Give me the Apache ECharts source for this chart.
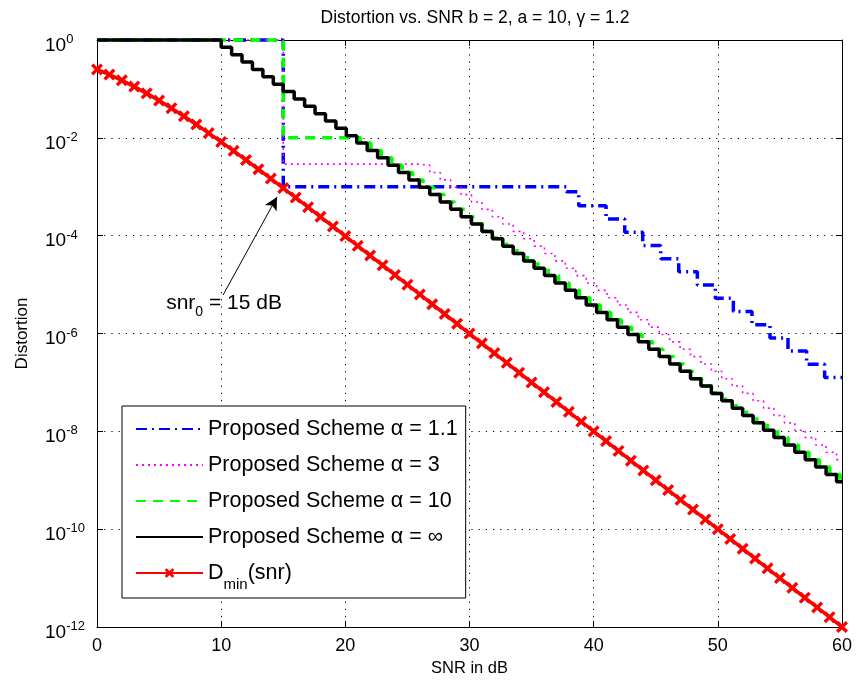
<!DOCTYPE html>
<html>
<head>
<meta charset="utf-8">
<script src="https://cdn.jsdelivr.net/npm/echarts@6/dist/echarts.min.js"></script>
<style>
  html, body { margin: 0; padding: 0; background: #fff; }
  #chart { width: 857px; height: 684px; }
</style>
</head>
<body>
<div id="chart"></div>
<script>
// SNR grid (dB) for the lower bound curve
const snrDb = [0, 1, 2, 3, 4, 5, 6, 7, 8, 9, 10, 11, 12, 13, 14, 15, 16, 17, 18, 19, 20,
  21, 22, 23, 24, 25, 26, 27, 28, 29, 30, 31, 32, 33, 34, 35, 36, 37, 38, 39, 40,
  41, 42, 43, 44, 45, 46, 47, 48, 49, 50, 51, 52, 53, 54, 55, 56, 57, 58, 59, 60];

// D_min(snr)
const dMin = [0.25, 0.196, 0.1497, 0.1115, 0.0811, 0.0577, 0.0403, 0.02767, 0.01872, 0.0125,
  0.008264, 0.005415, 0.003523, 0.002278, 0.001466, 9.40e-4, 6.00e-4, 3.83e-4, 2.434e-4, 1.546e-4,
  9.80e-5, 6.21e-5, 3.93e-5, 2.487e-5, 1.572e-5, 9.94e-6, 6.28e-6, 3.965e-6, 2.504e-6, 1.581e-6,
  9.98e-7, 6.30e-7, 3.976e-7, 2.509e-7, 1.584e-7, 9.99e-8, 6.31e-8, 3.98e-8, 2.51e-8, 1.585e-8,
  1.0e-8, 6.31e-9, 3.98e-9, 2.51e-9, 1.585e-9, 1.0e-9, 6.31e-10, 3.98e-10, 2.51e-10, 1.585e-10,
  1.0e-10, 6.31e-11, 3.98e-11, 2.51e-11, 1.585e-11, 1.0e-11, 6.31e-12, 3.98e-12, 2.51e-12, 1.585e-12,
  1.0e-12];

// Proposed scheme, alpha = infinity: SNR where each level starts, and the level
const alphaInfEdgesDb = [0, 10, 10.84, 11.68, 12.52, 13.36, 14.2, 15, 15.88, 16.72, 17.56, 18.4,
  19.24, 20.08, 20.92, 21.76, 22.6, 23.44, 24.28, 25.12, 25.96, 26.8, 27.64, 28.48, 29.32, 30.16,
  31.0, 31.84, 32.68, 33.52, 34.36, 35.2, 36.04, 36.88, 37.72, 38.56, 39.4, 40.24, 41.08, 41.92,
  42.76, 43.6, 44.44, 45.28, 46.12, 46.96, 47.8, 48.64, 49.48, 50.32, 51.16, 52.0, 52.84, 53.68,
  54.52, 55.36, 56.2, 57.04, 57.88, 58.72, 59.56];
const alphaInfLevels = [1, 0.7071, 0.5, 0.3536, 0.25, 0.1768, 0.125, 0.08839, 0.0625, 0.04419,
  0.03125, 0.0221, 0.015625, 0.01105, 0.0078125, 0.005524, 0.003906, 0.002762, 0.001953, 0.001381,
  9.766e-4, 6.905e-4, 4.883e-4, 3.453e-4, 2.441e-4, 1.726e-4, 1.221e-4, 8.632e-5, 6.104e-5, 4.316e-5,
  3.052e-5, 2.158e-5, 1.526e-5, 1.079e-5, 7.629e-6, 5.395e-6, 3.815e-6, 2.697e-6, 1.907e-6, 1.349e-6,
  9.537e-7, 6.744e-7, 4.768e-7, 3.372e-7, 2.384e-7, 1.686e-7, 1.192e-7, 8.429e-8, 5.96e-8, 4.215e-8,
  2.98e-8, 2.107e-8, 1.49e-8, 1.054e-8, 7.451e-9, 5.269e-9, 3.725e-9, 2.634e-9, 1.863e-9, 1.317e-9,
  9.313e-10];

// Proposed scheme, alpha = 10
const alpha10EdgesDb = [0, 15, 21.22, 22.06, 22.9, 23.74, 24.58, 25.42, 26.26, 27.1, 27.94, 28.78,
  29.62, 30.46, 31.3, 32.14, 32.98, 33.82, 34.66, 35.5, 36.34, 37.18, 38.02, 38.86, 39.7, 40.54,
  41.38, 42.22, 43.06, 43.9, 44.74, 45.58, 46.42, 47.26, 48.1, 48.94, 49.78, 50.62, 51.46, 52.3,
  53.14, 53.98, 54.82, 55.66, 56.5, 57.34, 58.18, 59.02, 59.86];
const alpha10Levels = [1, 0.01, 0.0078125, 0.005524, 0.003906, 0.002762, 0.001953, 0.001381,
  9.766e-4, 6.905e-4, 4.883e-4, 3.453e-4, 2.441e-4, 1.726e-4, 1.221e-4, 8.632e-5, 6.104e-5, 4.316e-5,
  3.052e-5, 2.158e-5, 1.526e-5, 1.079e-5, 7.629e-6, 5.395e-6, 3.815e-6, 2.697e-6, 1.907e-6, 1.349e-6,
  9.537e-7, 6.744e-7, 4.768e-7, 3.372e-7, 2.384e-7, 1.686e-7, 1.192e-7, 8.429e-8, 5.96e-8, 4.215e-8,
  2.98e-8, 2.107e-8, 1.49e-8, 1.054e-8, 7.451e-9, 5.269e-9, 3.725e-9, 2.634e-9, 1.863e-9, 1.317e-9,
  9.313e-10];

// Proposed scheme, alpha = 3
const alpha3EdgesDb = [0, 15, 25.96, 26.8, 27.64, 28.48, 29.32, 30.16, 31.0, 31.84, 32.68, 33.52,
  34.36, 35.2, 36.04, 36.88, 37.72, 38.56, 39.4, 40.24, 41.08, 41.92, 42.76, 43.6, 44.44, 45.28,
  46.12, 46.96, 47.8, 48.64, 49.48, 50.32, 51.16, 52.0, 52.84, 53.68, 54.52, 55.36, 56.2, 57.04,
  57.88, 58.72, 59.56];
const alpha3Levels = [1, 0.0029, 0.002762, 0.001953, 0.001381, 9.766e-4, 6.905e-4, 4.883e-4,
  3.453e-4, 2.441e-4, 1.726e-4, 1.221e-4, 8.632e-5, 6.104e-5, 4.316e-5, 3.052e-5, 2.158e-5, 1.526e-5,
  1.079e-5, 7.629e-6, 5.395e-6, 3.815e-6, 2.697e-6, 1.907e-6, 1.349e-6, 9.537e-7, 6.744e-7, 4.768e-7,
  3.372e-7, 2.384e-7, 1.686e-7, 1.192e-7, 8.429e-8, 5.96e-8, 4.215e-8, 2.98e-8, 2.107e-8, 1.49e-8,
  1.054e-8, 7.451e-9, 5.269e-9, 3.725e-9, 2.634e-9];

// Proposed scheme, alpha = 1.1
const alpha11EdgesDb = [0, 15, 37.8, 38.8, 41.0, 42.5, 43.95, 45.4, 46.85, 48.35, 49.8, 51.25,
  52.75, 54.2, 55.65, 57.15, 58.6];
const alpha11Levels = [1, 1e-3, 7.94e-4, 4.07e-4, 2.19e-4, 1.17e-4, 6.31e-5, 3.39e-5, 1.82e-5,
  9.77e-6, 5.25e-6, 2.82e-6, 1.51e-6, 8.13e-7, 4.37e-7, 2.34e-7, 1.26e-7];

// Axis ticks
const xTicksDb = [0, 10, 20, 30, 40, 50, 60];
const yTicks = [1, 1e-2, 1e-4, 1e-6, 1e-8, 1e-10, 1e-12];

// Annotation: label anchor and arrow (tail, head) in data units
const snr0Label = [10.23, 3.98e-6];
const snr0Arrow = [[10.15, 6.1e-6], [14.5, 6.2e-4]];

const names = ['Proposed Scheme \u03b1 = 1.1', 'Proposed Scheme \u03b1 = 3',
  'Proposed Scheme \u03b1 = 10', 'Proposed Scheme \u03b1 = \u221e', 'Dmin(snr)'];

const xMax = snrDb[snrDb.length - 1];
function stairs(edges, levels) {
  const pts = edges.map((x, i) => [x, levels[i]]);
  pts.push([xMax, levels[levels.length - 1]]);
  return pts;
}

const FONT = 'Liberation Sans';
const xPath = 'path://M2,0 L5,3 L8,0 L10,2 L7,5 L10,8 L8,10 L5,7 L2,10 L0,8 L3,5 L0,2 Z';
const CLEAR = 'rgba(0,0,0,0)';

const chart = echarts.init(document.getElementById('chart'), null, { renderer: 'canvas' });

// staircase curves: no markers, so the legend shows only the line sample
const stepSeries = (name, data, color, width, dash) => ({
  name, type: 'line', step: 'end', data, symbol: 'circle', showSymbol: false, clip: false,
  lineStyle: { color, width, type: dash },
  itemStyle: { color: CLEAR, borderColor: CLEAR, borderWidth: 0 }
});

chart.setOption({
  animation: false,
  backgroundColor: '#fff',
  textStyle: { fontFamily: FONT, color: '#000' },
  title: {
    text: 'Distortion vs. SNR b = 2, a = 10, \u03b3 = 1.2',
    left: 470, top: 4, textAlign: 'center',
    textStyle: { fontFamily: FONT, fontSize: 17.5, fontWeight: 'normal', color: '#000' }
  },
  grid: { left: 97, top: 40, width: 745, height: 587, containLabel: false },
  legend: {
    data: names,
    orient: 'vertical', left: 122, top: 406,
    itemWidth: 67, itemHeight: 12, itemGap: 14,
    padding: [12, 8, 6, 13],
    borderColor: '#000', borderWidth: 1, backgroundColor: '#fff',
    textStyle: {
      fontFamily: FONT, fontSize: 21.5, color: '#000',
      rich: {
        t: { fontFamily: FONT, fontSize: 21.5, color: '#000', lineHeight: 22, verticalAlign: 'top' },
        sub: { fontFamily: FONT, fontSize: 15, color: '#000', lineHeight: 16, padding: [15, 0, 0, 0], verticalAlign: 'top' }
      }
    },
    formatter: n => n === 'Dmin(snr)' ? '{t|D}{sub|min}{t|(snr)}' : n
  },
  xAxis: [{
    type: 'value', min: 0, max: 60, interval: 10, position: 'bottom',
    name: 'SNR in dB', nameLocation: 'middle', nameGap: 33,
    nameTextStyle: { fontFamily: FONT, fontSize: 16.5, color: '#000' },
    axisLine: { onZero: false, lineStyle: { color: '#000', width: 1 } },
    axisTick: { inside: true, length: 6, lineStyle: { color: '#000' } },
    axisLabel: { fontFamily: FONT, fontSize: 18, color: '#000', margin: 10,
      customValues: xTicksDb },
    splitLine: { show: true, lineStyle: { color: '#000', width: 1, type: [1.2, 6] } }
  }, {
    type: 'value', min: 0, max: 60, interval: 10, position: 'top',
    axisLine: { onZero: false, lineStyle: { color: '#000', width: 1 } },
    axisTick: { inside: true, length: 6, lineStyle: { color: '#000' } },
    axisLabel: { show: false },
    splitLine: { show: false }
  }],
  yAxis: [{
    type: 'log', logBase: 10, min: 1e-12, max: 1, position: 'left',
    name: 'Distortion', nameLocation: 'middle', nameGap: 66,
    nameTextStyle: { fontFamily: FONT, fontSize: 17, color: '#000' },
    axisLine: { onZero: false, lineStyle: { color: '#000', width: 1 } },
    axisTick: { inside: true, length: 6, customValues: yTicks, lineStyle: { color: '#000' } },
    axisLabel: {
      customValues: yTicks, align: 'left', margin: 52, padding: [8, 0, 0, 0],
      formatter: v => '{b|10}{e|' + Math.round(Math.log10(v)) + '}',
      rich: {
        b: { fontFamily: FONT, fontSize: 19, color: '#000', lineHeight: 22, verticalAlign: 'bottom' },
        e: { fontFamily: FONT, fontSize: 13, color: '#000', lineHeight: 14, padding: [0, 0, 14, 0], verticalAlign: 'top' }
      }
    },
    splitLine: { show: true, lineStyle: { color: '#000', width: 1, type: [1.2, 6] } }
  }, {
    type: 'log', logBase: 10, min: 1e-12, max: 1, position: 'right',
    axisLine: { onZero: false, lineStyle: { color: '#000', width: 1 } },
    axisTick: { inside: true, length: 6, customValues: yTicks, lineStyle: { color: '#000' } },
    axisLabel: { show: false },
    splitLine: { show: false }
  }],
  series: [
    stepSeries(names[0], stairs(alpha11EdgesDb, alpha11Levels), '#0000ff', 3.5, [11, 5, 2, 5]),
    stepSeries(names[1], stairs(alpha3EdgesDb, alpha3Levels), '#ff00ff', 1.6, [2, 4]),
    stepSeries(names[2], stairs(alpha10EdgesDb, alpha10Levels), '#00ff00', 3.5, [10, 7]),
    stepSeries(names[3], stairs(alphaInfEdgesDb, alphaInfLevels), '#000000', 3.5, 'solid'),
    {
      name: names[4], type: 'line', clip: false,
      data: snrDb.map((x, i) => [x, dMin[i]]),
      symbol: xPath, symbolSize: 12, showSymbol: true,
      lineStyle: { color: '#ff0000', width: 3.5 },
      itemStyle: { color: '#ff0000' },
      markLine: {
        silent: true, symbol: ['none', 'arrow'], symbolSize: [10, 13],
        label: { show: false },
        lineStyle: { color: '#000', width: 1, type: 'solid' },
        data: [[{ coord: snr0Arrow[0] }, { coord: snr0Arrow[1] }]]
      },
      markPoint: {
        silent: true, symbol: 'circle', symbolSize: 1,
        itemStyle: { color: CLEAR },
        label: {
          show: true, position: 'inside', color: '#000',
          formatter: '{a|snr}{s|0}{a| = 15 dB}',
          rich: {
            a: { fontFamily: FONT, fontSize: 21, color: '#000', lineHeight: 22, verticalAlign: 'top' },
            s: { fontFamily: FONT, fontSize: 14, color: '#000', lineHeight: 14, padding: [12, 0, 0, 0], verticalAlign: 'top' }
          }
        },
        data: [{ coord: snr0Label }]
      }
    }
  ]
});
</script>
</body>
</html>
